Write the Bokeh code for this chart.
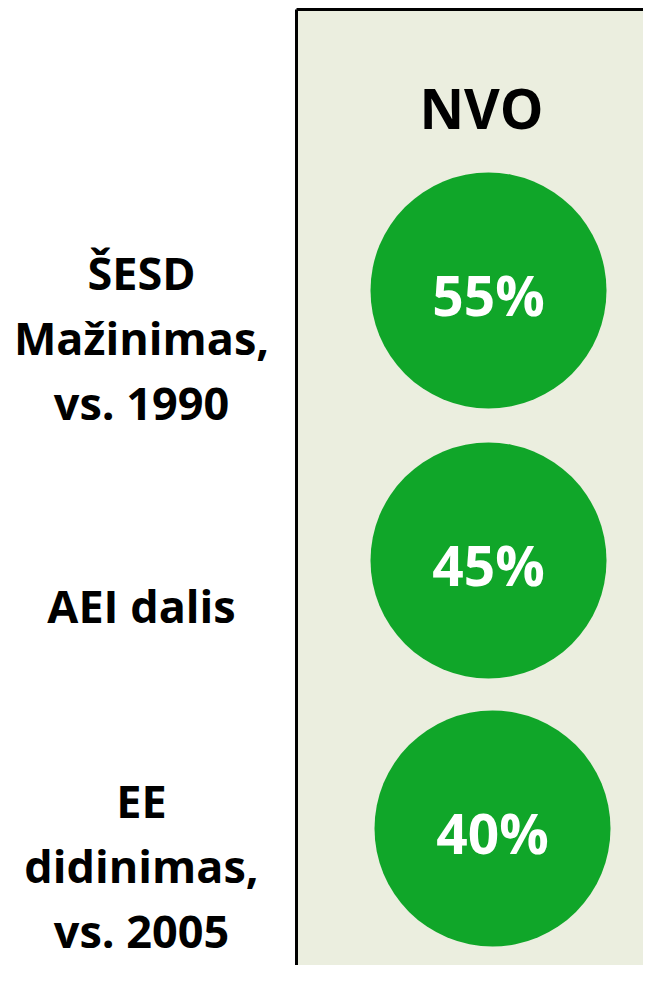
from bokeh.plotting import figure
from bokeh.models import Range1d, ColumnDataSource
from bokeh.embed import file_html
from bokeh.resources import INLINE
from bokeh.core.properties import value

# data
categories = ["ŠESD\nMažinimas,\nvs. 1990", "AEI dalis", "EE\ndidinimas,\nvs. 2005"]
values = [55, 45, 40]
column_title = "NVO"

# layout (pixel coordinates of the picture)
W, H = 643, 965
row_y = [290, 560, 828]
circle_x = [488, 488, 492]
label_y = [337, 605, 865]
label_x = 141
radius = 118
panel_left = 296

p = figure(width=W, height=H, x_range=Range1d(0, W), y_range=Range1d(H, 0),
           output_backend="svg", toolbar_location=None, min_border=0)
p.axis.visible = False
p.grid.visible = False
p.outline_line_color = None
p.background_fill_color = "white"
p.border_fill_color = "white"

# panel
p.quad(left=panel_left, right=W + 5, top=9, bottom=H + 5,
       fill_color="#EBEEDF", line_color=None)
p.segment(x0=[panel_left, panel_left], y0=[9, 9], x1=[W + 5, panel_left], y1=[9, H + 5],
          line_color="black", line_width=3)

p.text(x=[481], y=[107], text=[column_title], text_font=value("Open Sans"),
       text_font_style="bold", text_font_size="55px", text_color="black",
       text_align="center", text_baseline="middle")

src = ColumnDataSource(dict(x=circle_x, y=row_y, v=[f"{v}%" for v in values]))
p.circle(x="x", y="y", radius=radius, source=src, fill_color="#10A629", line_color=None)
p.text(x="x", y="y", text="v", source=src, y_offset=4,
       text_font=value("Open Sans"), text_font_style="bold", text_font_size="55px",
       text_color="white", text_align="center", text_baseline="middle")

p.text(x=[label_x] * 3, y=label_y, text=categories, text_font=value("Open Sans"),
       text_font_style="bold", text_font_size="45px", text_color="black",
       text_align="center", text_baseline="middle", text_line_height=1.07)

open("out.html", "w").write(file_html(p, INLINE))
